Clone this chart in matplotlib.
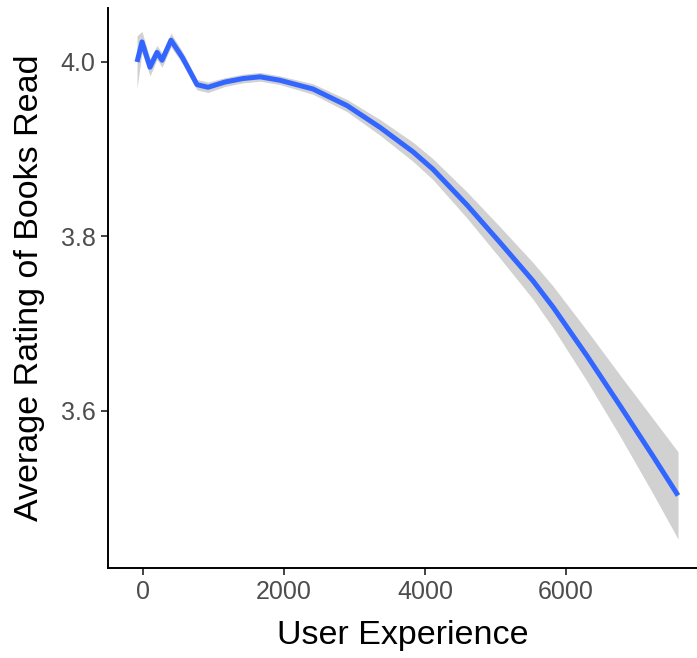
import matplotlib.pyplot as plt

plt.rcParams["font.family"] = ["Liberation Sans", "DejaVu Sans"]

# smoothed average rating vs. user experience (fit line and its band)
experience = [
    -85, -14, 99, 199, 270, 397, 560, 766, 922, 1163, 1420, 1660,
    1943, 2411, 2894, 3362, 3830, 4113, 4596, 5064, 5532, 5816,
    6298, 6766, 7234, 7589,
]
rating = [
    4.000, 4.023, 3.994, 4.011, 4.002, 4.025, 4.005, 3.974, 3.971, 3.977,
    3.981, 3.983, 3.979, 3.969, 3.950, 3.925, 3.897, 3.877, 3.836, 3.793,
    3.749, 3.719, 3.663, 3.606, 3.548, 3.503,
]
band_half = [
    0.030, 0.012, 0.010, 0.008, 0.008, 0.008, 0.007, 0.006, 0.006, 0.005,
    0.005, 0.005, 0.005, 0.006, 0.007, 0.009, 0.011, 0.012, 0.015, 0.018,
    0.021, 0.024, 0.029, 0.035, 0.043, 0.050,
]

x_ticks = [0, 2000, 4000, 6000]
y_ticks = [3.6, 3.8, 4.0]

lower = [r - h for r, h in zip(rating, band_half)]
upper = [r + h for r, h in zip(rating, band_half)]

fig = plt.figure(figsize=(6.97, 6.58), dpi=100)
ax = fig.add_axes([0.155, 0.137, 0.845, 0.851])

ax.fill_between(experience, lower, upper, color="#999999", alpha=0.45,
                linewidth=0)
ax.plot(experience, rating, color="#3366FF", linewidth=3.6,
        solid_capstyle="butt", solid_joinstyle="round")

ax.set_xlim(-496, 7858)
ax.set_ylim(3.420, 4.062)
ax.set_xticks(x_ticks)
ax.set_yticks(y_ticks)
ax.set_yticklabels([f"{v:.1f}" for v in y_ticks])

for side in ["top", "right"]:
    ax.spines[side].set_visible(False)
for side in ["left", "bottom"]:
    ax.spines[side].set_linewidth(1.4)
    ax.spines[side].set_color("black")

ax.tick_params(axis="both", length=5, width=1.3, color="#333333",
               labelsize=18, labelcolor="#4D4D4D", pad=4)

ax.set_xlabel("User Experience", fontsize=24.5, labelpad=11)
ax.set_ylabel("Average Rating of Books Read", fontsize=24.5, labelpad=11)

fig.savefig("out.png", dpi=100)
